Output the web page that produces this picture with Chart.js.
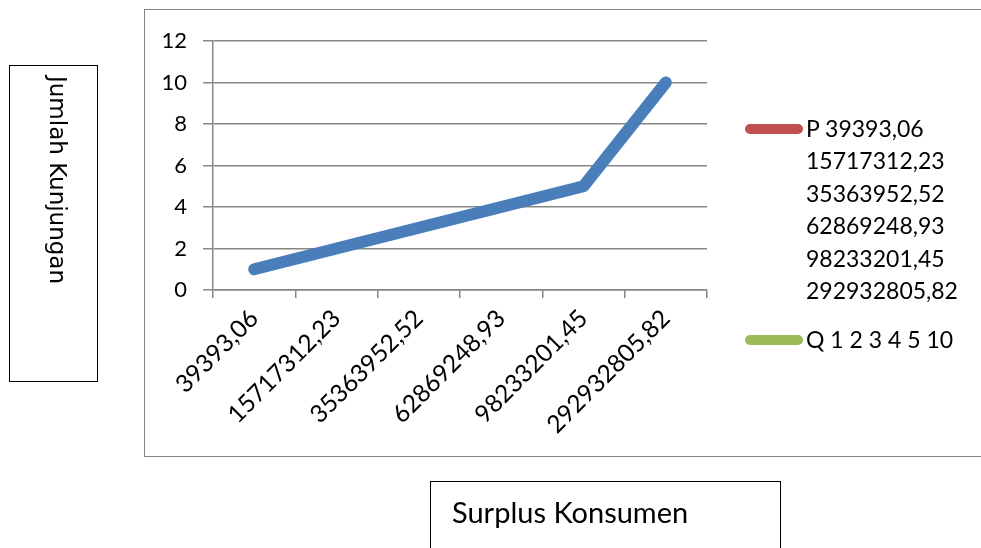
<!DOCTYPE html>
<html><head><meta charset="utf-8">
<script src="https://cdn.jsdelivr.net/npm/chart.js@4"></script>
<style>
html,body{margin:0;padding:0;background:#fff;width:981px;height:548px;overflow:hidden;font-family:Lato,sans-serif;color:#000;}
#frame{position:absolute;left:144px;top:9px;width:900px;height:446px;border:1.5px solid #868686;}
#cwrap{position:absolute;left:0;top:0;width:981px;height:548px;}
#ybox{position:absolute;left:9px;top:65px;width:89px;height:317px;border:1.5px solid #000;box-sizing:border-box;}
#ytitle{position:absolute;left:34px;top:10px;writing-mode:vertical-rl;font-family:"DejaVu Sans",sans-serif;font-size:23px;line-height:28px;white-space:nowrap;}
#xbox{position:absolute;left:430px;top:481px;width:351px;height:80px;border:1.5px solid #000;box-sizing:border-box;}
#xtitle{position:absolute;left:21px;top:12px;font-size:29px;white-space:nowrap;}
.lg{position:absolute;left:745px;width:58px;height:10px;border-radius:5px;}
.lt{position:absolute;left:806px;font-size:23px;line-height:32.4px;white-space:nowrap;}
</style></head>
<body>
<div id="frame"></div>
<div id="cwrap"><canvas id="c" width="981" height="548"></canvas></div>
<div id="ybox"><div id="ytitle"></div></div>
<div id="xbox"><div id="xtitle"></div></div>
<div class="lg" style="top:124px;background:#c0504d"></div>
<div class="lt" id="ltP" style="top:112px"></div>
<div class="lg" style="top:335px;background:#9bbb59"></div>
<div class="lt" id="ltQ" style="top:323px"></div>
<script>
const categories = ["39393,06","15717312,23","35363952,52","62869248,93","98233201,45","292932805,82"];
const jumlahKunjungan = [1, 2, 3, 4, 5, 10];
const yTickValues = [0, 2, 4, 6, 8, 10, 12];
const legendSeriesP = "P";
const legendSeriesQ = "Q";
const yAxisTitle = "Jumlah Kunjungan";
const xAxisTitle = "Surplus Konsumen";

document.getElementById('ytitle').textContent = yAxisTitle;
document.getElementById('xtitle').textContent = xAxisTitle;
document.getElementById('ltP').innerHTML = [legendSeriesP + " " + categories[0]].concat(categories.slice(1)).join("<br>");
document.getElementById('ltQ').textContent = legendSeriesQ + " " + jumlahKunjungan.join(" ");

const gridColor = '#868686';
new Chart(document.getElementById('c'), {
  type: 'line',
  data: {
    labels: categories,
    datasets: [{
      label: 'Jumlah Kunjungan',
      data: jumlahKunjungan,
      borderColor: '#4a7ebb',
      backgroundColor: '#4a7ebb',
      borderWidth: 12,
      borderCapStyle: 'round',
      borderJoinStyle: 'round',
      pointRadius: 0,
      tension: 0,
      fill: false
    }]
  },
  options: {
    responsive: false,
    animation: false,
    devicePixelRatio: 1,
    layout: { padding: { top: 41, right: 274, left: 0, bottom: 0 } },
    plugins: { legend: { display: false }, tooltip: { enabled: false } },
    scales: {
      x: {
        offset: true,
        grid: { offset: true, drawOnChartArea: false, drawTicks: true, tickLength: 8, color: gridColor, lineWidth: 1.5 },
        border: { color: gridColor, width: 1.5 },
        ticks: { maxRotation: 45, minRotation: 45, autoSkip: false, color: '#000', padding: 6, font: { family: 'Lato', size: 24.5 } },
        afterFit: s => { s.height = 548 - 290; s.paddingLeft = 0; s.paddingRight = 0; }
      },
      y: {
        min: 0, max: 12,
        afterBuildTicks: s => { s.ticks = yTickValues.map(v => ({ value: v })); },
        grid: { drawTicks: true, tickLength: 10, color: gridColor, lineWidth: 1.5 },
        border: { color: gridColor, width: 1.5 },
        ticks: { color: '#000', padding: 16, font: { family: 'Lato', size: 22 } },
        afterFit: s => { s.width = 213; s.paddingTop = 0; s.paddingBottom = 0; }
      }
    }
  }
});
</script>
</body></html>
